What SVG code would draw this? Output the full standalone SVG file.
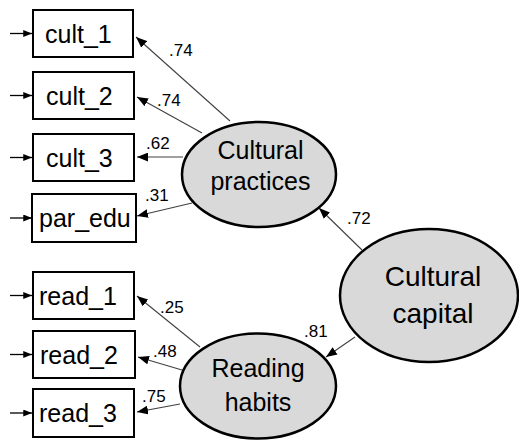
<svg xmlns="http://www.w3.org/2000/svg" width="519" height="440" viewBox="0 0 519 440">
  <style>
    .box { fill: #ffffff; stroke: #000000; stroke-width: 2; }
    .latent { fill: #d9d9d9; stroke: #000000; stroke-width: 2.5; }
    .obs { font-family: "Liberation Sans", Arial, sans-serif; font-size: 25px; fill: #000000; }
    .lat { font-family: "Liberation Sans", Arial, sans-serif; fill: #000000; text-anchor: middle; }
    .coef { font-family: "Liberation Sans", Arial, sans-serif; font-size: 17px; fill: #000000; }
    .path { stroke: #404040; stroke-width: 1.1; fill: none; marker-end: url(#ah); }
    .err { stroke: #000000; stroke-width: 1.3; fill: none; marker-end: url(#ahs); }
  </style>
  <defs>
    <marker id="ah" viewBox="0 0 10 8" refX="10" refY="4" markerWidth="11" markerHeight="9" markerUnits="userSpaceOnUse" orient="auto">
      <path d="M0,0 L10,4 L0,8 z" fill="#000000"/>
    </marker>
    <marker id="ahs" viewBox="0 0 10 8" refX="10" refY="4" markerWidth="9" markerHeight="7" markerUnits="userSpaceOnUse" orient="auto">
      <path d="M0,0 L10,4 L0,8 z" fill="#000000"/>
    </marker>
  </defs>

  <!-- loadings, structural paths and error terms -->
  <g id="connectors">
    <line class="path" x1="230" y1="121" x2="136" y2="37"/>
    <line class="path" x1="202" y1="133" x2="137" y2="97"/>
    <line class="path" x1="183" y1="157" x2="137" y2="157"/>
    <line class="path" x1="192" y1="203" x2="137" y2="216"/>
    <line class="path" x1="200" y1="347" x2="137" y2="296"/>
    <line class="path" x1="182" y1="370" x2="138" y2="357"/>
    <line class="path" x1="180" y1="404" x2="137" y2="412"/>
    <line class="path" x1="362" y1="250" x2="319" y2="208"/>
    <line class="path" x1="355" y1="337" x2="326" y2="357"/>

    <line class="err" x1="10" y1="33.5" x2="32" y2="33.5"/>
    <line class="err" x1="10" y1="95.5" x2="32" y2="95.5"/>
    <line class="err" x1="10" y1="157.5" x2="32" y2="157.5"/>
    <line class="err" x1="10" y1="218" x2="32" y2="218"/>
    <line class="err" x1="10" y1="295.5" x2="32" y2="295.5"/>
    <line class="err" x1="10" y1="354.5" x2="32" y2="354.5"/>
    <line class="err" x1="10" y1="413" x2="32" y2="413"/>
  </g>

  <!-- observed indicators -->
  <g id="cult_1">
    <rect class="box" x="33" y="10" width="100" height="47"/>
    <text class="obs" x="45" y="43">cult_1</text>
  </g>
  <g id="cult_2">
    <rect class="box" x="33" y="72" width="101" height="47"/>
    <text class="obs" x="46" y="105">cult_2</text>
  </g>
  <g id="cult_3">
    <rect class="box" x="33" y="134" width="101" height="47"/>
    <text class="obs" x="46" y="167">cult_3</text>
  </g>
  <g id="par_edu">
    <rect class="box" x="32" y="194" width="104" height="48"/>
    <text class="obs" x="39" y="227">par_edu</text>
  </g>
  <g id="read_1">
    <rect class="box" x="33" y="272" width="101" height="47"/>
    <text class="obs" x="39" y="305">read_1</text>
  </g>
  <g id="read_2">
    <rect class="box" x="33" y="331" width="102" height="47"/>
    <text class="obs" x="40" y="364">read_2</text>
  </g>
  <g id="read_3">
    <rect class="box" x="33" y="389" width="101" height="48"/>
    <text class="obs" x="39" y="422">read_3</text>
  </g>

  <!-- latent factors -->
  <g id="cultural_practices">
    <ellipse class="latent" cx="259" cy="174.5" rx="77" ry="52.5"/>
    <text class="lat" x="260.5" y="159" font-size="25">Cultural</text>
    <text class="lat" x="260.5" y="190" font-size="25">practices</text>
  </g>
  <g id="reading_habits">
    <ellipse class="latent" cx="258" cy="386" rx="78" ry="52.5"/>
    <text class="lat" x="258" y="377" font-size="25">Reading</text>
    <text class="lat" x="258" y="411" font-size="25">habits</text>
  </g>
  <g id="cultural_capital">
    <ellipse class="latent" cx="429" cy="295.5" rx="89" ry="66.5"/>
    <text class="lat" x="433" y="286" font-size="28">Cultural</text>
    <text class="lat" x="433" y="323" font-size="28">capital</text>
  </g>

  <!-- standardized coefficients -->
  <g id="labels">
    <text class="coef" x="169" y="56">.74</text>
    <text class="coef" x="157" y="106">.74</text>
    <text class="coef" x="146" y="149">.62</text>
    <text class="coef" x="145" y="201">.31</text>
    <text class="coef" x="160" y="313">.25</text>
    <text class="coef" x="153" y="357">.48</text>
    <text class="coef" x="142" y="402">.75</text>
    <text class="coef" x="347" y="224">.72</text>
    <text class="coef" x="304" y="337">.81</text>
  </g>
</svg>
